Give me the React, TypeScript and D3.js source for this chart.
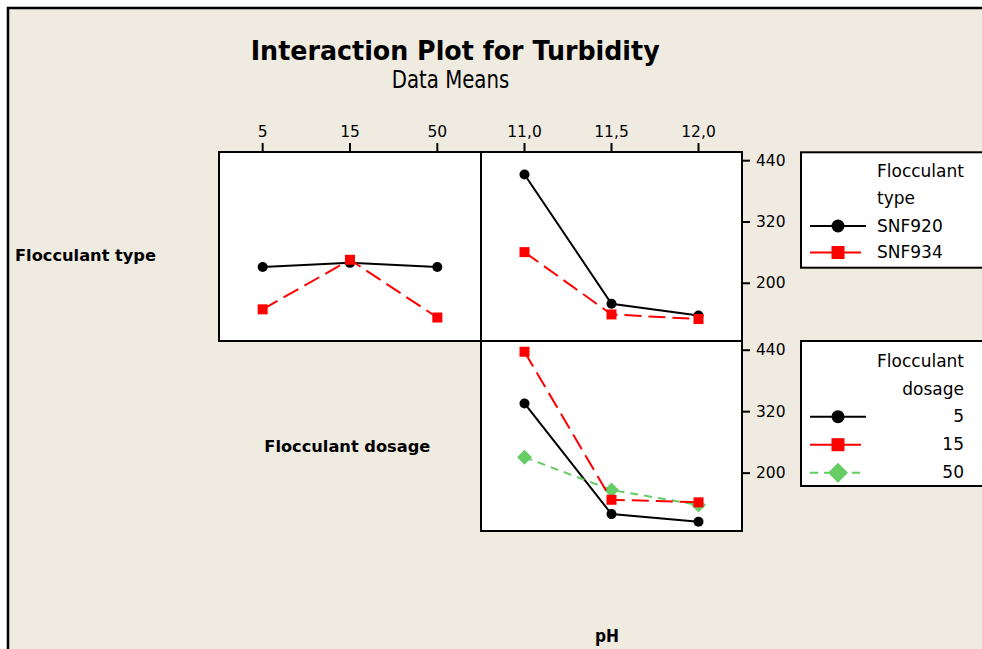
import React from 'react';
import * as d3 from 'd3';

const doseLevels = ['5', '15', '50'];
const phLevels = ['11,0', '11,5', '12,0'];
const typeNames = ['SNF920', 'SNF934'];
const doseNames = ['5', '15', '50'];
const snf920ByDose = [232, 240, 232];
const snf934ByDose = [149, 246, 133];
const snf920ByPH = [413, 160, 137];
const snf934ByPH = [261, 139, 130];
const dose5ByPH = [336, 120, 105];
const dose15ByPH = [437, 148, 143];
const dose50ByPH = [231, 167, 138];
const yTicks = [200, 320, 440];

const BG = '#EFEBE1';
const RED = '#FF0000';
const GREEN = '#66CC66';
const FONT = '"DejaVu Sans", Verdana, sans-serif';

type Style = { color: string; dash: string; marker: 'circle' | 'square' | 'diamond' };
const styles: Style[] = [
  { color: '#000000', dash: '', marker: 'circle' },
  { color: RED, dash: '17,7', marker: 'square' },
  { color: GREEN, dash: '8,6', marker: 'diamond' },
];

function Marker({ x, y, s, size }: { x: number; y: number; s: Style; size: number }) {
  if (s.marker === 'circle') return <circle cx={x} cy={y} r={size / 2} fill={s.color} />;
  if (s.marker === 'square')
    return <rect x={x - size / 2} y={y - size / 2} width={size} height={size} fill={s.color} />;
  const h = size / 2;
  return <path d={`M${x},${y - h}L${x + h},${y}L${x},${y + h}L${x - h},${y}Z`} fill={s.color} />;
}

export default function App() {
  const colL = [219, 481];
  const colR = [481, 742];
  const rowT = [152, 341];
  const rowB = [341, 531];

  const xDose = d3.scalePoint<string>().domain(doseLevels).range([colL[0], colR[0]]).padding(0.5);
  const xPH = d3.scalePoint<string>().domain(phLevels).range([colL[1], colR[1]]).padding(0.5);
  const yTop = d3.scaleLinear().domain([87, 457]).range([rowB[0], rowT[0]]);
  const yBot = d3.scaleLinear().domain([87, 457]).range([rowB[1], rowT[1] + 0.5]);

  const series = (
    xs: d3.ScalePoint<string>,
    levels: string[],
    ys: d3.ScaleLinear<number, number>,
    vals: number[],
    s: Style,
    key: string
  ) => {
    const pts: [number, number][] = vals.map((v, i) => [xs(levels[i]) as number, ys(v)]);
    const line = d3.line()(pts) as string;
    return (
      <g key={key}>
        <path d={line} fill="none" stroke={s.color} strokeWidth={2} strokeDasharray={s.dash} />
        {pts.map((p, i) => (
          <Marker key={i} x={p[0]} y={p[1]} s={s} size={s.marker === 'diamond' ? 15 : 10} />
        ))}
      </g>
    );
  };

  const legendRow = (y: number, s: Style, key: string) => (
    <g key={key}>
      <line x1={810} x2={s.marker === 'circle' ? 866 : 861} y1={y} y2={y} stroke={s.color} strokeWidth={2}
        strokeDasharray={s.marker === 'diamond' ? '8,6' : ''} />
      <Marker x={838} y={y} s={s} size={s.marker === 'diamond' ? 20 : 13} />
    </g>
  );

  return (
    <svg width={982} height={649} style={{ position: 'absolute', left: 0, top: 0, background: '#fff' }}
      fontFamily={FONT}>
      <rect x={8} y={8} width={1000} height={700} fill={BG} stroke="#000" strokeWidth={2.5} />

      <text x={250.7} y={60} fontSize={26} fontWeight="bold" textLength={409} lengthAdjust="spacingAndGlyphs">
        Interaction Plot for Turbidity
      </text>
      <text x={391.7} y={88.3} fontSize={25} textLength={117.6} lengthAdjust="spacingAndGlyphs">
        Data Means
      </text>

      {/* panels */}
      <rect x={colL[0]} y={rowT[0]} width={colR[0] - colL[0]} height={rowB[0] - rowT[0]} fill="#fff" stroke="#000" strokeWidth={2} />
      <rect x={colL[1]} y={rowT[0]} width={colR[1] - colL[1]} height={rowB[0] - rowT[0]} fill="#fff" stroke="#000" strokeWidth={2} />
      <rect x={colL[1]} y={rowT[1]} width={colR[1] - colL[1]} height={rowB[1] - rowT[1]} fill="#fff" stroke="#000" strokeWidth={2} />

      {/* top ticks */}
      {doseLevels.map((d) => (
        <g key={'d' + d}>
          <line x1={xDose(d)} x2={xDose(d)} y1={143} y2={152} stroke="#000" strokeWidth={2} />
          <text x={xDose(d)} y={137.3} fontSize={15.5} textAnchor="middle">{d}</text>
        </g>
      ))}
      {phLevels.map((d) => (
        <g key={'p' + d}>
          <line x1={xPH(d)} x2={xPH(d)} y1={143} y2={152} stroke="#000" strokeWidth={2} />
          <text x={xPH(d)} y={137.3} fontSize={15.5} textAnchor="middle">{d}</text>
        </g>
      ))}

      {/* right y ticks */}
      {[yTop, yBot].map((ys, k) => (
        <g key={'y' + k}>
          {yTicks.map((t) => (
            <g key={t}>
              <line x1={742} x2={750} y1={ys(t)} y2={ys(t)} stroke="#000" strokeWidth={2} />
              <text x={756} y={ys(t)} fontSize={15.5} dominantBaseline="central">{t}</text>
            </g>
          ))}
        </g>
      ))}

      {/* data */}
      {series(xDose, doseLevels, yTop, snf920ByDose, styles[0], 'a0')}
      {series(xDose, doseLevels, yTop, snf934ByDose, styles[1], 'a1')}
      {series(xPH, phLevels, yTop, snf920ByPH, styles[0], 'b0')}
      {series(xPH, phLevels, yTop, snf934ByPH, styles[1], 'b1')}
      {series(xPH, phLevels, yBot, dose5ByPH, styles[0], 'c0')}
      {series(xPH, phLevels, yBot, dose50ByPH, styles[2], 'c2')}
      {series(xPH, phLevels, yBot, dose15ByPH, styles[1], 'c1')}

      {/* row labels */}
      <text x={15} y={260.5} fontSize={15.5} fontWeight="bold" textLength={141} lengthAdjust="spacingAndGlyphs">
        Flocculant type
      </text>
      <text x={264.3} y={451.5} fontSize={15.5} fontWeight="bold" textLength={166} lengthAdjust="spacingAndGlyphs">
        Flocculant dosage
      </text>
      <text x={595} y={641.7} fontSize={17} fontWeight="bold" textLength={24} lengthAdjust="spacingAndGlyphs">
        pH
      </text>

      {/* legend 1 */}
      <rect x={801} y={152.3} width={200} height={115.4} fill="#fff" stroke="#000" strokeWidth={2} />
      <text x={877} y={176.7} fontSize={17}>Flocculant</text>
      <text x={877} y={204} fontSize={17}>type</text>
      {typeNames.map((n, i) => (
        <g key={n}>
          {legendRow(226 + i * 26.5, styles[i], 'l1' + i)}
          <text x={877} y={231.7 + i * 26.5} fontSize={17}>{n}</text>
        </g>
      ))}

      {/* legend 2 */}
      <rect x={801} y={341} width={200} height={145} fill="#fff" stroke="#000" strokeWidth={2} />
      <text x={964} y={366.7} fontSize={17} textAnchor="end">Flocculant</text>
      <text x={964} y={395} fontSize={17} textAnchor="end">dosage</text>
      {doseNames.map((n, i) => (
        <g key={n}>
          {legendRow(416.7 + i * 28, styles[i], 'l2' + i)}
          <text x={964} y={422.3 + i * 28} fontSize={17} textAnchor="end">{n}</text>
        </g>
      ))}
    </svg>
  );
}
